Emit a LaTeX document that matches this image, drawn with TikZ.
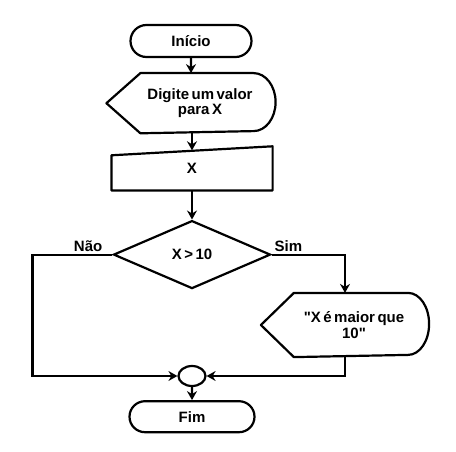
\documentclass[tikz,border=0pt]{standalone}
\usepackage{fontspec}
\setmainfont{Liberation Sans}[WordSpace=0.6]
\usetikzlibrary{arrows.meta,positioning,shapes.geometric,shapes.misc}
\tikzset{
  base/.style={font=\fontsize{15}{15.5}\selectfont\bfseries, align=center, line width=2.2pt, inner sep=0pt},
  term/.style={base, rounded rectangle, draw, minimum width=121pt, minimum height=32pt},
  disp/.style={base, minimum width=167pt, minimum height=58pt},
  manual/.style={base, minimum width=159pt, minimum height=42pt},
  decision/.style={base, diamond, draw, minimum width=157pt, minimum height=68pt},
  joint/.style={ellipse, draw, line width=2.2pt, minimum width=27pt, minimum height=20pt, inner sep=0pt},
  lbl/.style={font=\fontsize{15}{15.5}\selectfont\bfseries, inner sep=2pt},
  outline/.style={line width=2.2pt, line join=round},
  arrow/.style={-{Stealth[length=9pt,width=10pt,inset=3pt]}, line width=2.2pt}
}
\begin{document}
\begin{tikzpicture}[x=1pt, y=-1pt]
\useasboundingbox (0,0) rectangle (456,452);
\node[term] (inicio) at (191,41) {Início};
\node[disp, below=15pt of inicio, xshift=9pt] (digite) {Digite um valor\\para X};
\node[manual, below=13pt of digite, xshift=-8pt] (entrada) {X};
\node[decision, below=29pt of entrada] (teste) {X > 10};
\node[disp, minimum width=166pt, minimum height=62pt] (msg) at (354,325) {\textquotedbl X é maior que\\10\textquotedbl};
\node[joint] (juncao) at (192,376) {};
\node[term, below=13pt of juncao, minimum width=125pt, minimum height=31pt] (fim) {Fim};
% outlines of display and manual input shapes
\draw[outline] ([xshift=-9pt]digite.west) -- ([xshift=25pt]digite.north west) -- ([xshift=-31pt]digite.north east)
  arc[start angle=90, end angle=-90, x radius=22pt, y radius=29pt] -- ([xshift=25pt]digite.south west) -- cycle;
\draw[outline] (entrada.south west) -- ([yshift=-9pt]entrada.north west) -- (entrada.north east) -- (entrada.south east) -- cycle;
\draw[outline] ([xshift=-9pt]msg.west) -- ([xshift=24pt]msg.north west) -- ([xshift=-30pt]msg.north east)
  arc[start angle=90, end angle=-90, x radius=21pt, y radius=31pt] -- ([xshift=24pt]msg.south west) -- cycle;
% connectors
\draw[arrow] (inicio) -- (inicio |- digite.north);
\draw[arrow] (entrada |- digite.south) -- ([yshift=-4pt]entrada.north);
\draw[arrow] (entrada) -- (teste);
\draw[arrow] (teste.east) node[lbl, anchor=south west]{Sim} -| ([xshift=-9pt]msg.north);
\draw[arrow] (teste.west) node[lbl, anchor=south east, xshift=-7pt]{Não} -- ++(-80,0) |- (juncao.west);
\draw[arrow] ([xshift=-9pt]msg.south) |- (juncao.east);
\draw[arrow] (juncao) -- (fim);
\end{tikzpicture}
\end{document}
